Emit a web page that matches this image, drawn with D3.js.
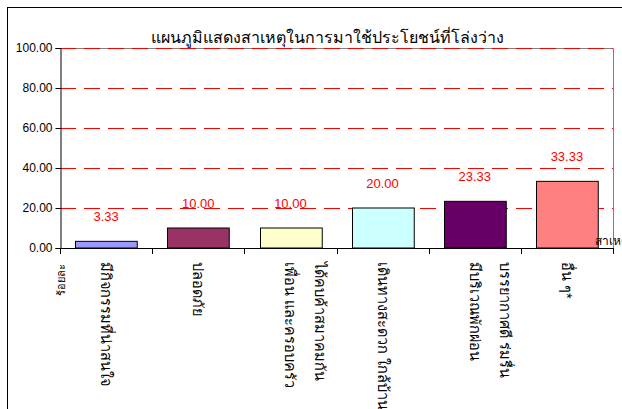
<!DOCTYPE html>
<html>
<head>
<meta charset="utf-8">
<script src="https://cdn.jsdelivr.net/npm/d3@7/dist/d3.min.js"></script>
<style>
  html, body { margin: 0; padding: 0; background: #fff; }
  svg { display: block; }
  text { font-family: Arial, "Liberation Sans", sans-serif; }
</style>
</head>
<body>
<svg id="chart" width="622" height="409"></svg>
<script>
// ---- data ----
const title = "แผนภูมิแสดงสาเหตุในการมาใช้ประโยชน์ที่โล่งว่าง";
const categories = ["กิจกรรม", "ปลอดภัย", "เพื่อน", "เดินทาง", "บรรยากาศ", "อื่นๆ"];
const categoryLines = [
  ["มีกิจกรรมที่น่าสนใจ"],
  ["ปลอดภัย"],
  ["ได้คบค้าสมาคมกัน", "เพื่อน และครอบครัว"],
  ["เดินทางสะดวก ใกล้บ้าน"],
  ["บรรยากาศดี ร่มรื่น", "มีบริเวณพักผ่อน"],
  ["อื่น ๆ*"]
];
const values = [3.33, 10.00, 10.00, 20.00, 23.33, 33.33];
const barColors = ["#9999FF", "#993366", "#FFFFCC", "#CCFFFF", "#660066", "#FF8080"];
const yTicks = [0, 20, 40, 60, 80, 100];
const yAxisTitle = "ร้อยละ";
const xAxisTitle = "สาเหตุ";

// ---- layout ----
const svg = d3.select("#chart");
const plot = { left: 60, right: 613, top: 48, bottom: 248 };

const x = d3.scaleBand().domain(categories).range([plot.left, plot.right])
  .paddingInner(0.33).paddingOuter(0.165);
const y = d3.scaleLinear().domain([0, 100]).range([plot.bottom, plot.top]);

// outer frame
svg.append("rect").attr("x", 7.5).attr("y", 7.5).attr("width", 700).attr("height", 500)
  .attr("fill", "none").attr("stroke", "#000").attr("stroke-width", 1);

// title
svg.append("text").attr("x", 327).attr("y", 43).attr("text-anchor", "middle")
  .attr("font-size", 16).attr("fill", "#000").text(title);

// plot border (top/right)
svg.append("path")
  .attr("d", `M${plot.left},${plot.top + 0.5}H${plot.right + 0.5}V${plot.bottom}`)
  .attr("fill", "none").attr("stroke", "#808080");

// gridlines
svg.append("g").selectAll("line").data(yTicks.filter(d => d > 0)).join("line")
  .attr("x1", plot.left).attr("x2", plot.right)
  .attr("y1", d => Math.round(y(d)) + 0.5).attr("y2", d => Math.round(y(d)) + 0.5)
  .attr("stroke", "#FF0000").attr("stroke-dasharray", "16,8");

// bars
svg.append("g").selectAll("rect").data(values).join("rect")
  .attr("x", (d, i) => Math.round(x(categories[i])) + 0.5)
  .attr("y", d => y(d))
  .attr("width", x.bandwidth())
  .attr("height", d => plot.bottom - y(d))
  .attr("fill", (d, i) => barColors[i])
  .attr("stroke", "#000").attr("stroke-width", 1);

// data labels
svg.append("g").selectAll("text").data(values).join("text")
  .attr("x", (d, i) => x(categories[i]) + x.bandwidth() / 2)
  .attr("y", d => y(d) - 20)
  .attr("text-anchor", "middle").attr("font-size", 13).attr("fill", "#FF0000")
  .text(d => d.toFixed(2));

// y axis
const yAxis = d3.axisLeft(y).tickValues(yTicks).tickFormat(d => d.toFixed(2))
  .tickSize(5).tickPadding(3);
const gy = svg.append("g").attr("transform", `translate(${plot.left + 0.5},0)`).call(yAxis);
gy.select(".domain").attr("stroke", "#000");
gy.selectAll(".tick line").attr("stroke", "#000");
gy.selectAll(".tick text").attr("font-size", 12).attr("fill", "#000")
  .attr("font-family", "Arial, 'Liberation Sans', sans-serif");

// x axis line and ticks at category boundaries
const boundaries = [plot.left].concat(categories.map(c => x(c) + x.bandwidth() + x.step() * x.paddingInner() / 2));
svg.append("line").attr("x1", plot.left).attr("x2", plot.right + 1)
  .attr("y1", plot.bottom + 0.5).attr("y2", plot.bottom + 0.5).attr("stroke", "#000");
svg.append("g").selectAll("line").data(boundaries).join("line")
  .attr("x1", d => Math.round(d) + 0.5).attr("x2", d => Math.round(d) + 0.5)
  .attr("y1", plot.bottom).attr("y2", plot.bottom + 6).attr("stroke", "#000");

// category labels (rotated, reading top to bottom)
const catG = svg.append("g");
categoryLines.forEach((lines, i) => {
  const cx = x(categories[i]) + x.bandwidth() / 2;
  const n = lines.length;
  lines.forEach((ln, j) => {
    const lx = cx + (n - 1 - j) * 30;
    catG.append("text")
      .attr("transform", `translate(${lx},262) rotate(90)`)
      .attr("dy", "0.35em")
      .attr("font-size", 14.5).attr("fill", "#000")
      .text(ln);
  });
});

// axis titles
svg.append("text").attr("transform", "translate(61,280) rotate(-90)")
  .attr("text-anchor", "middle").attr("dy", "0.35em")
  .attr("font-size", 11).attr("fill", "#000").text(yAxisTitle);
svg.append("text").attr("x", 595).attr("y", 245)
  .attr("font-size", 12).attr("fill", "#000").text(xAxisTitle);
</script>
</body>
</html>
